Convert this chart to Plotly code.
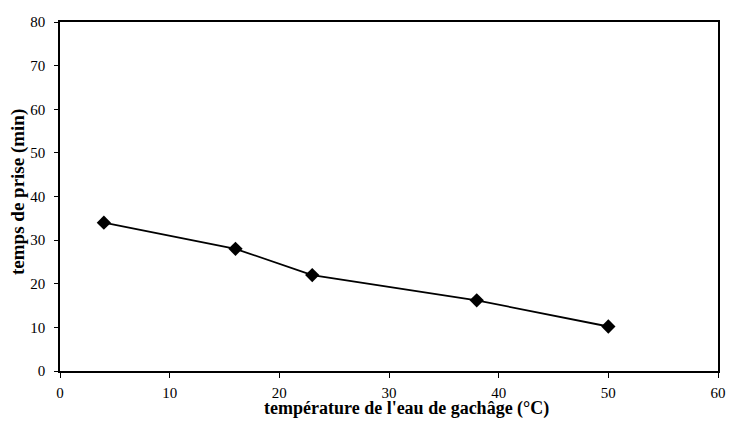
import plotly.graph_objects as go

temperature = [4, 16, 23, 38, 50]
temps_prise = [34, 28, 22, 16.2, 10.2]
x_ticks = [0, 10, 20, 30, 40, 50, 60]
y_ticks = [0, 10, 20, 30, 40, 50, 60, 70, 80]
x_title = "<b>température de l'eau de gachâge (°C)</b>"
y_title = "<b>temps de prise (min)</b>"

fig = go.Figure()
fig.add_trace(go.Scatter(
    x=temperature, y=temps_prise, mode="lines+markers",
    line=dict(color="black", width=1.8),
    marker=dict(symbol="diamond", size=11, color="black"),
    showlegend=False,
))

font = dict(family="Liberation Serif", size=15, color="black")
fig.update_layout(
    width=718, height=412,
    margin=dict(l=52, r=8, t=14, b=49, autoexpand=False),
    paper_bgcolor="white", plot_bgcolor="white",
    font=font,
)
fig.update_xaxes(
    range=[0, 60], tickvals=x_ticks, showgrid=False, zeroline=False,
    showline=True, linecolor="black", linewidth=1.5, mirror=True,
    ticks="outside", ticklen=5, tickcolor="black", ticklabelstandoff=2,
    ticklabeloverflow="allow", automargin=False,
)
fig.update_yaxes(
    range=[0, 80], tickvals=y_ticks, showgrid=False, zeroline=False,
    showline=True, linecolor="black", linewidth=1.5, mirror=True,
    ticks="outside", ticklen=4, tickcolor="black", ticklabelstandoff=6,
    ticklabeloverflow="allow", automargin=False,
)
fig.add_annotation(
    text=x_title, xref="paper", yref="paper", x=0.527, y=0,
    xanchor="center", yanchor="middle", yshift=-37, showarrow=False,
    font=dict(family="Liberation Serif", size=18, color="black"),
)
fig.add_annotation(
    text=y_title, xref="paper", yref="paper", x=0, y=0.513,
    xanchor="center", yanchor="middle", xshift=-42, textangle=-90,
    showarrow=False,
    font=dict(family="Liberation Serif", size=19, color="black"),
)
fig.write_html("out.html")
